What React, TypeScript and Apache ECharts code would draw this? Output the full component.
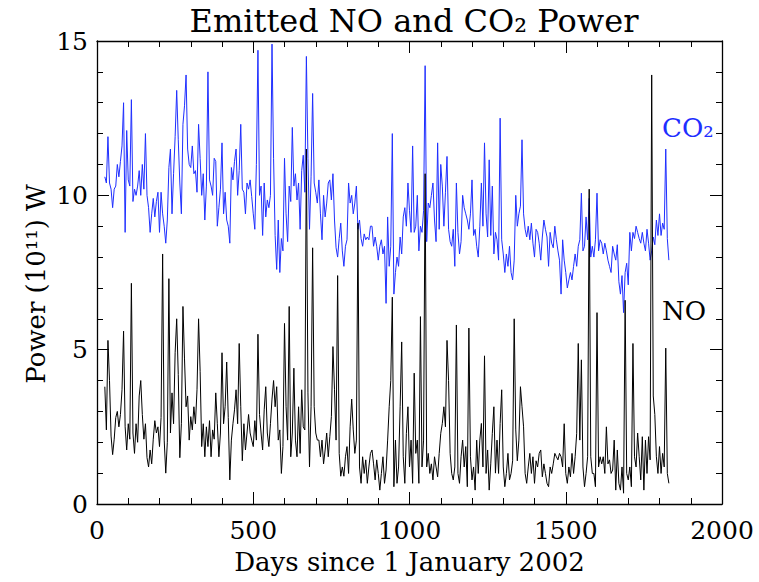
import React, { useEffect, useRef } from "react";
import * as echarts from "echarts";

// Daily-sampled power readings (units of 10^11 W), one value every STEP_DAYS days from START_DAY
const START_DAY = 25;
const STEP_DAYS = 5;

const X_MIN = 0;
const X_MAX = 2000;
const X_INTERVAL = 500;
const Y_MIN = 0;
const Y_MAX = 15;
const Y_INTERVAL = 5;

const TITLE = "Emitted NO and CO₂ Power";
const X_NAME = "Days since 1 January 2002";
const Y_NAME = "Power (10¹¹) W";
const SERIES_NAMES = ["CO₂", "NO"];

const co2Power: number[] = [
  // 25 - 120
  10.6, 10.4, 11.9, 10.4, 10.2, 9.6, 10.2, 10.3, 11.0, 10.6, 11.1, 11.6, 13.0, 8.8, 12.1, 10.5, 10.3, 13.1, 9.8, 10.2,
  // 125 - 220
  10.0, 10.3, 10.8, 10.0, 11.0, 10.2, 12.0, 10.0, 9.6, 8.8, 9.4, 9.9, 9.3, 9.8, 10.1, 8.8, 10.1, 9.4, 9.0, 8.45,
  // 225 - 320
  9.2, 10.9, 11.5, 9.4, 10.7, 11.9, 13.4, 11.8, 10.4, 9.4, 12.3, 12.9, 13.9, 11.5, 11.0, 10.9, 11.6, 10.7, 10.8, 10.1,
  // 325 - 420
  12.3, 11.2, 10.0, 10.7, 9.2, 10.3, 14.0, 10.5, 10.3, 10.0, 11.2, 11.1, 9.0, 9.6, 10.2, 11.7, 9.4, 10.1, 9.2, 9.0,
  // 425 - 520
  8.45, 10.9, 10.5, 11.1, 11.5, 10.0, 10.8, 12.3, 10.2, 10.1, 9.4, 10.4, 10.2, 10.5, 9.96, 9.4, 8.9, 11.0, 14.7, 10.0,
  // 525 - 620
  10.3, 8.7, 10.4, 9.3, 9.85, 9.6, 10.0, 14.9, 11.2, 8.7, 7.6, 9.2, 7.5, 8.6, 8.2, 11.2, 9.4, 8.5, 10.3, 9.8,
  // 625 - 720
  12.2, 10.3, 10.7, 9.85, 10.4, 8.9, 10.8, 11.3, 10.1, 14.5, 11.2, 8.9, 10.6, 13.3, 10.4, 10.1, 9.75, 10.5, 9.4, 8.56,
  // 725 - 820
  10.0, 9.3, 9.75, 10.4, 10.5, 9.85, 10.7, 9.2, 8.3, 8.0, 8.6, 9.1, 8.2, 7.7, 8.35, 8.56, 10.4, 9.75, 10.0, 9.4,
  // 825 - 920
  9.75, 10.3, 8.9, 9.2, 8.6, 8.35, 8.75, 8.56, 8.65, 8.56, 9.0, 9.0, 8.35, 8.65, 8.35, 7.9, 8.35, 8.56, 8.1, 8.35,
  // 925 - 1020
  6.5, 9.3, 7.7, 8.35, 12.0, 6.8, 7.5, 8.0, 7.7, 8.65, 8.1, 9.3, 9.6, 9.0, 10.4, 9.5, 8.8, 11.6, 8.8, 9.0,
  // 1025 - 1120
  10.0, 8.2, 9.0, 8.8, 9.5, 14.2, 8.5, 9.75, 9.6, 10.0, 10.4, 9.2, 8.5, 11.7, 8.9, 11.0, 10.3, 9.0, 10.1, 11.26,
  // 1125 - 1220
  8.9, 8.5, 8.35, 8.9, 7.7, 10.4, 8.8, 8.1, 8.5, 10.0, 9.6, 9.4, 9.2, 8.9, 9.4, 10.5, 8.7, 8.9, 8.35, 8.0,
  // 1225 - 1320
  9.0, 10.4, 9.0, 11.7, 9.4, 8.65, 11.15, 8.7, 10.3, 8.1, 8.8, 8.56, 7.9, 12.5, 8.56, 8.1, 7.5, 8.1, 7.7, 8.35,
  // 1325 - 1420
  7.5, 7.26, 7.9, 10.0, 9.0, 9.4, 9.65, 11.8, 9.4, 8.9, 8.65, 9.0, 8.56, 9.1, 8.45, 8.0, 8.9, 8.8, 8.45, 7.9,
  // 1425 - 1520
  8.65, 9.2, 8.9, 8.65, 7.7, 8.8, 8.45, 8.3, 9.0, 8.56, 8.2, 7.9, 6.8, 8.56, 7.9, 7.5, 7.0, 7.26, 7.5, 7.26,
  // 1525 - 1620
  7.7, 8.1, 7.7, 8.35, 8.56, 10.07, 8.2, 8.35, 9.3, 8.56, 9.9, 8.0, 8.35, 8.0, 8.56, 10.07, 8.2, 8.56, 8.45, 8.1,
  // 1625 - 1720
  8.45, 8.2, 7.9, 7.7, 7.5, 8.35, 8.1, 7.9, 8.4, 7.2, 6.8, 7.4, 6.2, 7.5, 7.8, 7.1, 8.8, 8.2, 8.8, 8.6,
  // 1725 - 1820
  9.0, 8.8, 8.6, 8.45, 8.8, 8.45, 8.2, 8.9, 8.45, 7.9, 8.2, 8.65, 8.4, 9.2, 8.7, 9.4, 8.7, 9.1, 8.9, 11.5,
  // 1825 - 1830
  8.6, 7.9,
];

const noPower: number[] = [
  // 25 - 120
  3.8, 2.4, 5.3, 4.0, 2.2, 1.6, 2.1, 2.8, 3.0, 2.5, 2.9, 3.7, 5.6, 2.5, 1.75, 2.6, 2.1, 7.15, 2.3, 1.64,
  // 125 - 220
  2.6, 2.0, 3.5, 4.0, 2.9, 2.1, 2.6, 1.5, 1.2, 1.75, 1.3, 2.1, 2.7, 2.3, 2.5, 1.86, 2.8, 8.1, 2.07, 1.0,
  // 225 - 320
  2.0, 7.3, 2.3, 3.6, 2.6, 4.9, 6.0, 4.2, 1.5, 2.6, 6.4, 4.7, 3.15, 3.5, 2.07, 2.83, 2.4, 3.15, 2.6, 3.7,
  // 325 - 420
  6.0, 4.3, 1.86, 2.6, 1.53, 2.5, 1.86, 2.7, 1.53, 2.4, 2.1, 3.6, 2.6, 1.53, 2.3, 4.9, 2.6, 3.15, 4.6, 2.8,
  // 425 - 520
  0.78, 2.07, 2.6, 3.05, 3.7, 2.6, 5.2, 3.15, 1.4, 2.6, 1.75, 2.3, 2.9, 2.3, 2.07, 1.86, 2.7, 2.07, 5.5, 2.9,
  // 525 - 620
  2.3, 1.75, 3.05, 3.8, 2.3, 1.86, 2.6, 3.4, 4.0, 3.15, 3.8, 2.07, 2.4, 0.99, 1.86, 5.85, 3.15, 2.07, 6.4, 1.53,
  // 625 - 720
  2.3, 4.4, 2.07, 1.53, 3.15, 1.64, 3.7, 2.5, 2.4, 11.5, 3.6, 1.2, 3.15, 8.3, 3.15, 2.3, 2.07, 2.07, 1.53, 2.07,
  // 725 - 820
  1.3, 1.75, 2.3, 1.53, 2.18, 2.83, 5.1, 3.7, 2.07, 7.4, 1.64, 0.9, 1.2, 0.9, 1.53, 1.86, 0.99, 2.5, 3.4, 2.4,
  // 825 - 920
  1.64, 2.07, 9.1, 1.2, 0.67, 1.53, 0.99, 1.43, 0.67, 1.2, 1.64, 1.75, 1.3, 0.78, 1.43, 0.99, 0.45, 0.99, 1.53, 0.67,
  // 925 - 1020
  1.1, 2.07, 3.15, 4.0, 6.7, 0.56, 2.07, 0.67, 1.2, 3.15, 5.25, 1.53, 0.67, 2.29, 3.15, 1.2, 2.07, 0.67, 4.24, 1.64,
  // 1025 - 1120
  2.07, 0.67, 6.07, 1.2, 2.07, 10.7, 1.2, 1.64, 0.99, 1.3, 0.78, 1.53, 1.2, 0.88, 1.64, 2.29, 2.61, 3.15, 2.5, 5.3,
  // 1125 - 1220
  4.0, 1.64, 0.99, 0.78, 1.2, 5.8, 0.99, 0.67, 1.53, 2.07, 1.2, 1.86, 0.56, 5.7, 1.53, 0.78, 1.2, 0.45, 2.07, 0.99,
  // 1225 - 1320
  2.07, 2.61, 1.2, 4.8, 0.99, 1.75, 0.45, 1.3, 2.29, 3.15, 1.0, 2.07, 0.99, 2.61, 3.7, 1.2, 0.56, 0.99, 1.64, 0.78,
  // 1325 - 1420
  0.99, 1.4, 6.0, 2.4, 1.4, 2.07, 3.8, 3.15, 2.5, 0.99, 0.67, 1.2, 1.64, 0.99, 1.53, 0.67, 1.4, 1.2, 1.64, 1.75,
  // 1425 - 1520
  0.88, 1.3, 0.99, 0.67, 0.56, 1.2, 0.99, 1.3, 1.64, 1.53, 1.43, 1.64, 1.53, 1.2, 2.6, 0.99, 0.67, 1.2, 0.88, 1.64,
  // 1525 - 1620
  0.99, 1.53, 2.29, 5.2, 2.07, 4.67, 1.2, 0.56, 0.99, 1.53, 10.2, 1.53, 0.99, 0.99, 0.56, 6.2, 1.2, 1.53, 1.3, 1.53,
  // 1625 - 1720
  0.99, 2.5, 1.3, 1.43, 0.99, 1.1, 2.07, 0.45, 1.75, 0.67, 0.45, 1.2, 0.35, 6.6, 0.99, 0.78, 1.2, 0.56, 5.2, 1.53,
  // 1725 - 1820
  1.2, 2.3, 1.53, 0.78, 2.18, 0.45, 2.07, 0.99, 2.18, 1.43, 13.9, 3.5, 2.9, 1.53, 0.99, 1.86, 0.99, 1.64, 1.2, 5.05,
  // 1825 - 1830
  0.99, 0.67,
];

const SERIF = "'DejaVu Serif', 'Liberation Serif', serif";
const BLUE = "#1f2fff";

function toPairs(values: number[]): [number, number][] {
  return values.map((v, i) => [START_DAY + i * STEP_DAYS, v]);
}

function frameAxis(position: string, withLabels: boolean, isX: boolean) {
  const common: any = {
    type: "value",
    position,
    min: isX ? X_MIN : Y_MIN,
    max: isX ? X_MAX : Y_MAX,
    interval: isX ? X_INTERVAL : Y_INTERVAL,
    axisLine: { show: true, onZero: false, lineStyle: { color: "#000", width: 1.3 } },
    axisTick: { show: true, inside: true, length: 12, lineStyle: { color: "#000", width: 1 } },
    minorTick: { show: true, splitNumber: 5, length: 6, lineStyle: { color: "#000", width: 1 } },
    splitLine: { show: false },
    minorSplitLine: { show: false },
    axisLabel: {
      show: withLabels,
      color: "#000",
      fontFamily: SERIF,
      fontSize: 25,
      margin: isX ? 14 : 9,
      formatter: (v: number) => String(v),
    },
  };
  if (withLabels && isX) {
    common.name = X_NAME;
    common.nameLocation = "middle";
    common.nameGap = 45;
    common.nameTextStyle = { color: "#000", fontFamily: SERIF, fontSize: 26 };
  }
  return common;
}

export default function App() {
  const ref = useRef<HTMLDivElement>(null);

  useEffect(() => {
    document.body.style.margin = "0";
    if (!ref.current) return;
    const chart = echarts.init(ref.current, undefined, { renderer: "svg" });
    chart.setOption({
      animation: false,
      backgroundColor: "#ffffff",
      title: {
        text: TITLE,
        left: 409,
        top: 0,
        textAlign: "center",
        textStyle: { color: "#000", fontFamily: SERIF, fontSize: 32, fontWeight: "normal" },
      },
      grid: { left: 97, right: 37, top: 41, bottom: 78, containLabel: false },
      xAxis: [frameAxis("bottom", true, true), frameAxis("top", false, true)],
      yAxis: [frameAxis("left", true, false), frameAxis("right", false, false)],
      series: [
        {
          name: SERIES_NAMES[0],
          type: "line",
          xAxisIndex: 0,
          yAxisIndex: 0,
          data: toPairs(co2Power),
          showSymbol: false,
          symbol: "none",
          lineStyle: { color: BLUE, width: 1 },
          itemStyle: { color: BLUE },
          z: 2,
        },
        {
          name: SERIES_NAMES[1],
          type: "line",
          xAxisIndex: 0,
          yAxisIndex: 0,
          data: toPairs(noPower),
          showSymbol: false,
          symbol: "none",
          lineStyle: { color: "#000000", width: 1 },
          itemStyle: { color: "#000000" },
          z: 3,
        },
      ],
      graphic: [
        {
          type: "text",
          x: 36,
          y: 284,
          rotation: Math.PI / 2,
          style: {
            text: Y_NAME,
            fill: "#000",
            font: `26px ${SERIF}`,
            textAlign: "center",
            textVerticalAlign: "middle",
          },
        },
        {
          type: "text",
          x: 662,
          y: 128,
          style: {
            text: SERIES_NAMES[0],
            fill: BLUE,
            font: `26px ${SERIF}`,
            textAlign: "left",
            textVerticalAlign: "middle",
          },
        },
        {
          type: "text",
          x: 662,
          y: 311,
          style: {
            text: SERIES_NAMES[1],
            fill: "#000",
            font: `26px ${SERIF}`,
            textAlign: "left",
            textVerticalAlign: "middle",
          },
        },
      ],
    });
    return () => chart.dispose();
  }, []);

  return <div ref={ref} style={{ width: 759, height: 582 }} />;
}
